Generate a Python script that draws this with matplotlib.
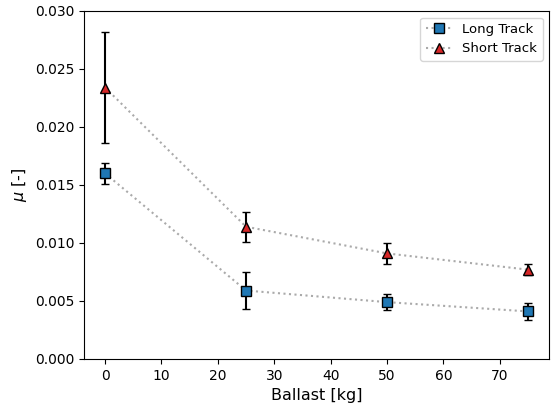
import matplotlib
matplotlib.use("Agg")
import matplotlib.pyplot as plt

ballast = [0, 25, 50, 75]
long_mu = [0.0160, 0.0059, 0.0049, 0.0041]
long_err = [0.0009, 0.0016, 0.0007, 0.0007]
short_mu = [0.0234, 0.0114, 0.0091, 0.0077]
short_err = [0.0048, 0.0013, 0.0009, 0.00045]

fig = plt.figure(figsize=(5.52, 4.07), dpi=100)
ax = fig.add_axes([0.152, 0.118, 0.843, 0.855])

ax.errorbar(ballast, long_mu, yerr=long_err, fmt='none', ecolor='black', capsize=3, elinewidth=1.5)
ax.errorbar(ballast, short_mu, yerr=short_err, fmt='none', ecolor='black', capsize=3, elinewidth=1.5)
ax.plot(ballast, long_mu, marker='s', linestyle=':', color='#aaaaaa',
        mfc='tab:blue', mec='black', ms=7, label='Long Track')
ax.plot(ballast, short_mu, marker='^', linestyle=':', color='#aaaaaa',
        mfc='tab:red', mec='black', ms=7, label='Short Track')

ax.set_ylim(0, 0.030)
ax.set_xlabel('Ballast [kg]', fontsize=11.5)
ax.set_ylabel(r'$\mu$ [-]', fontsize=11.5)
ax.legend(loc='upper right', fontsize=9.5)
fig.savefig('out.png', dpi=100)
